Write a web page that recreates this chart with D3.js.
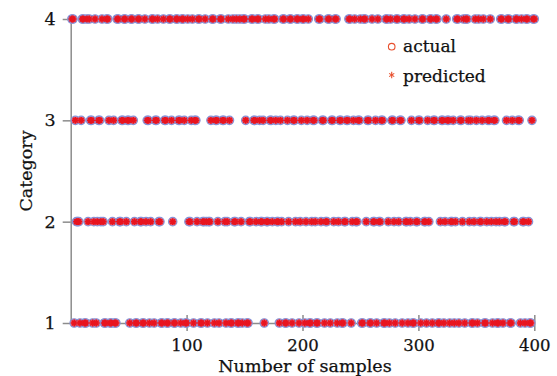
<!DOCTYPE html>
<html><head><meta charset="utf-8">
<script src="https://cdn.jsdelivr.net/npm/d3@7"></script>
<style>
html,body{margin:0;padding:0;background:#fff;}
svg{display:block;}
text{font-family:"DejaVu Serif",serif;fill:#111;}
</style></head>
<body>
<svg id="chart" width="557" height="376"></svg>
<script>
// category of samples 1..400 (actual; predictions coincide)
const actual = [
4,4,1,3,2,2,2,1,3,4, 4,1,1,4,2,4,3,3,1,2, 4,1,2,3,3,2,4,2,1,1, 4,4,3,1,1,2,3,1,1,4,
4,2,2,3,3,4,4,2,3,3, 1,4,4,3,2,1,1,4,4,2, 2,1,1,4,2,3,3,1,2,4, 4,1,3,3,4,2,2,1,1,4,
3,3,1,1,4,4,3,2,1,1, 4,4,3,3,1,4,4,3,1,1, 4,2,2,3,4,1,3,3,2,4, 4,1,1,2,2,4,2,1,2,2,
3,4,4,1,3,3,2,1,4,4, 3,3,2,1,2,4,3,1,1,4, 2,2,4,1,1,4,2,1,4,4, 3,1,1,2,2,4,4,3,3,2,
4,4,3,2,2,3,1,4,2,2, 4,3,3,2,4,4,3,2,2,1, 3,2,4,4,1,1,3,2,4,4, 1,3,3,2,4,4,1,2,3,4,
4,1,2,3,4,1,1,2,3,3, 2,1,1,4,4,2,3,3,1,2, 2,4,4,1,3,3,2,4,4,1, 2,3,3,1,1,2,2,3,3,4,
4,1,2,3,4,2,2,3,3,4, 1,1,4,4,2,3,3,1,1,4, 2,2,3,1,4,2,2,3,3,1, 1,4,4,2,1,4,3,3,2,1,
4,4,2,3,3,1,4,4,2,2, 1,4,2,3,1,1,4,2,2,3, 3,1,4,4,2,2,1,3,2,4, 4,1,3,3,4,4,1,1,2,3,
3,1,2,4,3,3,1,2,2,3, 1,2,4,4,1,3,3,2,4,1, 4,4,3,2,3,1,1,2,4,3, 1,4,2,2,3,4,1,1,2,3,
3,4,2,1,3,3,2,1,1,2, 4,4,1,2,2,3,4,4,1,1, 3,2,2,4,4,3,3,1,4,2, 2,1,4,4,2,1,1,3,4,4
];
const predicted = actual.slice();
const xTicks = [100, 200, 300, 400];
const yTicks = [1, 2, 3, 4];
const legendLabels = ["actual", "predicted"];

const svg = d3.select("#chart");
const x = d3.scaleLinear().domain([0, 400]).range([70.7, 534.3]);
const y = d3.scaleLinear().domain([1, 4]).range([323, 19]);
const axisColor = "#8c8c8c";

// axes
const gx = svg.append("g").attr("transform", `translate(0,${y(1)})`)
  .call(d3.axisBottom(x).tickValues(xTicks).tickSizeInner(8).tickSizeOuter(0).tickPadding(8));
gx.selectAll(".tick line").attr("y1", -8).attr("y2", 8);
const gy = svg.append("g").attr("transform", `translate(${x(0)},0)`)
  .call(d3.axisLeft(y).tickValues(yTicks).tickSizeInner(8).tickSizeOuter(0).tickPadding(7).tickFormat(d3.format("d")));
[gx, gy].forEach(g => {
  g.selectAll("path,line").attr("stroke", axisColor).attr("stroke-width", 1.5);
  g.selectAll("text").style("font-family", "DejaVu Serif").style("font-size", "16.5px")
    .attr("fill", "#111").attr("stroke", "#111").attr("stroke-width", 0.25);
});
gy.selectAll("text").style("font-size", "17.5px");

// markers
const pts = actual.map((c, i) => ({ i: i + 1, c }));
const pred = predicted.map((c, i) => ({ i: i + 1, c }));
svg.append("g").selectAll("circle").data(pts).join("circle")
  .attr("cx", d => x(d.i)).attr("cy", d => y(d.c)).attr("r", 4.2)
  .attr("fill", "#ee6d78").attr("stroke", "#8791d6").attr("stroke-width", 1.2);
const a = 3.4, b = a * 0.72;
const star = `M${-a},0L${a},0M0,${-a}L0,${a}M${-b},${-b}L${b},${b}M${-b},${b}L${b},${-b}`;
svg.append("g").selectAll("path").data(pred).join("path")
  .attr("transform", d => `translate(${x(d.i)},${y(d.c)})`)
  .attr("d", star).attr("stroke", "#e8141f").attr("stroke-width", 1.6).attr("fill", "none");

// axis titles
svg.append("text").attr("x", 305).attr("y", 372).attr("text-anchor", "middle")
  .style("font-size", "17.5px").attr("stroke", "#111").attr("stroke-width", 0.25).text("Number of samples");
svg.append("text").attr("transform", `translate(32,171) rotate(-90)`).attr("text-anchor", "middle")
  .style("font-size", "17.5px").attr("stroke", "#111").attr("stroke-width", 0.25).text("Category");

// legend
const leg = svg.append("g");
leg.append("circle").attr("cx", 391.7).attr("cy", 46.7).attr("r", 3.3)
  .attr("fill", "none").attr("stroke", "#e8502e").attr("stroke-width", 1.1);
const la = 3.2, lb = la * 0.8;
leg.append("path").attr("transform", "translate(391.7,75)")
  .attr("d", `M0,${-la}L0,${la}M${-lb},${-la*0.5}L${lb},${la*0.5}M${-lb},${la*0.5}L${lb},${-la*0.5}`)
  .attr("stroke", "#e8502e").attr("stroke-width", 1.1).attr("fill", "none");
leg.selectAll("text").data(legendLabels).join("text")
  .attr("x", 403).attr("y", (d, k) => k === 0 ? 52 : 81.5)
  .style("font-size", "17px").attr("stroke", "#111").attr("stroke-width", 0.25).text(d => d);
</script>
</body></html>
